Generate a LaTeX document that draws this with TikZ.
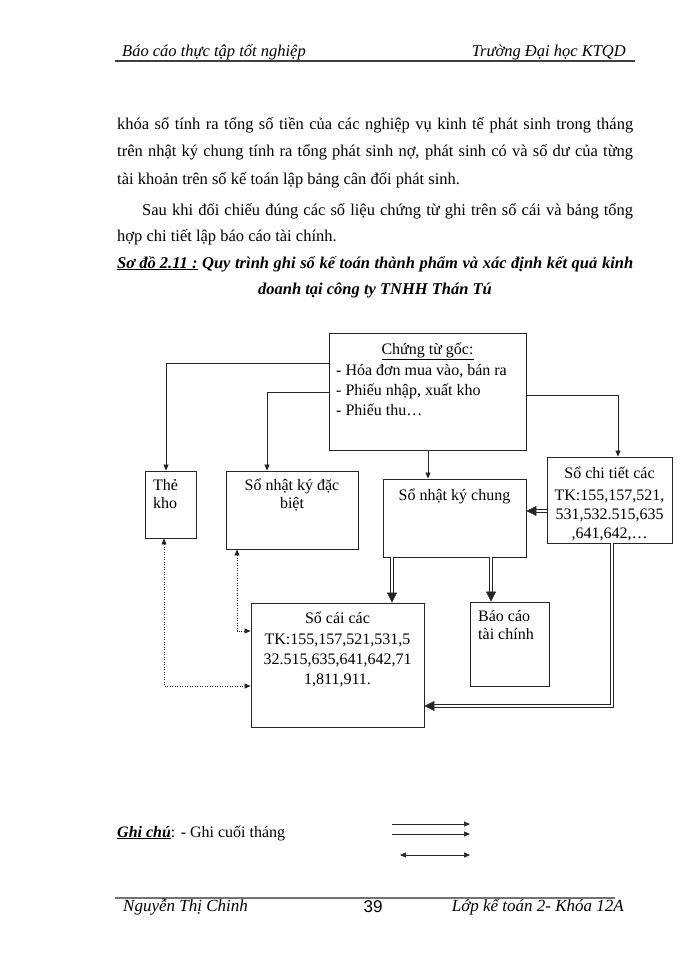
\documentclass[tikz,border=0pt]{standalone}
\usepackage{fontspec}
\setmainfont{Liberation Serif}
\newfontfamily\sansf{Liberation Sans}
\usetikzlibrary{arrows.meta,calc}
\begin{document}
\begin{tikzpicture}[x=1pt,y=-1pt,
  box/.style={draw=black!85, line width=0.9pt, inner sep=0pt},
  txt/.style={anchor=base, inner sep=0pt, font=\fontsize{16}{18}\selectfont},
  ltxt/.style={anchor=base west, inner sep=0pt, font=\fontsize{16}{18}\selectfont},
  thinarr/.style={draw=black!85, line width=0.7pt, -{Triangle[length=6pt,width=5pt]}},
  dblarr/.style={draw=black!85, line width=0.6pt, double distance=2.2pt, -{Triangle[length=10pt,width=10pt]}},
  dotarr/.style={draw=black!85, line width=0.7pt, dash pattern=on 1pt off 1.5pt, {Triangle[length=6pt,width=5pt]}-{Triangle[length=6pt,width=5pt]}},
  body/.style={anchor=base west, inner sep=0pt, font=\fontsize{16.5}{18}\selectfont},
  hf/.style={inner sep=0pt, font=\itshape\fontsize{16.5}{18}\selectfont},
]
\useasboundingbox[fill=white] (0,0) rectangle (700,960);

% header
\coordinate (hl) at (115,61);
\coordinate (hr) at (635,61);
\draw[line width=1.5pt, black!75] (hl) -- (hr);
\node[hf, anchor=base west] (h1) at (122,57) {Báo cáo thực tập tốt nghiệp};
\node[hf, anchor=base east] (h2) at (626,57) {Trường Đại học KTQD};

% body text
\node[body] (p1) at (117,130) {\makebox[516pt][s]{khóa sổ tính ra tổng số tiền của các nghiệp vụ kinh tế phát sinh trong tháng}};
\node[body] (p2) at (117,157) {\makebox[516pt][s]{trên nhật ký chung tính ra tổng phát sinh nợ, phát sinh có và số dư của từng}};
\node[body] (p3) at (117,185) {tài khoản trên sổ kế toán lập bảng cân đối phát sinh.};
\node[body] (p4) at (142,215) {\makebox[491pt][s]{Sau khi đối chiếu đúng các số liệu chứng từ ghi trên sổ cái và bảng tổng}};
\node[body] (p5) at (117,241) {hợp chi tiết lập báo cáo tài chính.};
\node[body] (c1) at (117,268) {\makebox[516pt][s]{\bfseries\itshape\underline{Sơ đồ 2.11 :} Quy trình ghi sổ kế toán thành phẩm và xác định kết quả kinh}};
\node[txt, font=\bfseries\itshape\fontsize{16.5}{18}\selectfont] (c2) at (375,294) {doanh tại công ty TNHH Thán Tú};

% boxes
\node[box, minimum width=197pt, minimum height=117pt] (ctg) at (427.5,391.5) {};
\node[box, minimum width=51pt, minimum height=67pt] (tk) at (170.5,504.5) {};
\node[box, minimum width=132pt, minimum height=78pt] (nkdb) at (292,510) {};
\node[box, minimum width=143pt, minimum height=78pt] (nkc) at (454.5,518) {};
\node[box, minimum width=125pt, minimum height=86pt] (sct) at (609.5,500) {};
\node[box, minimum width=173pt, minimum height=124pt] (sc) at (337.5,665) {};
\node[box, minimum width=79pt, minimum height=84pt] (bc) at (509.5,644) {};

% box texts
\node[txt] (ctg0) at (427.5,354) {\underline{Chứng từ gốc:}};
\node[ltxt] (ctg1) at (336,375) {- Hóa đơn mua vào, bán ra};
\node[ltxt] (ctg2) at (336,395) {- Phiếu nhập, xuất kho};
\node[ltxt] (ctg3) at (336,415) {- Phiếu thu…};
\node[ltxt] (tk1) at (153,490) {Thẻ};
\node[ltxt] (tk2) at (153,508) {kho};
\node[txt] (nkdb1) at (292,490) {Sổ nhật ký đặc};
\node[txt] (nkdb2) at (292,508) {biệt};
\node[txt] (nkc1) at (454.5,500) {Sổ nhật ký chung};
\node[txt] (sct1) at (609.5,478) {Sổ chi tiết các};
\node[txt] (sct2) at (609.5,500) {TK:155,157,521,};
\node[txt] (sct3) at (609.5,519) {531,532.515,635};
\node[txt] (sct4) at (609.5,538) {,641,642,…};
\node[txt] (sc1) at (337.5,623) {Sổ cái các};
\node[txt] (sc2) at (337.5,644) {TK:155,157,521,531,5};
\node[txt] (sc3) at (337.5,664) {32.515,635,641,642,71};
\node[txt] (sc4) at (337.5,684) {1,811,911.};
\node[ltxt] (bc1) at (478,621) {Báo cáo};
\node[ltxt] (bc2) at (478,639) {tài chính};

% connectors
\draw[thinarr] (ctg.west |- 0,363) -| ([xshift=-4.5pt]tk.north);
\draw[thinarr] (ctg.west |- 0,392) -| ([xshift=-25pt]nkdb.north);
\draw[thinarr] (ctg.south -| 428,0) -- (nkc.north -| 428,0);
\draw[thinarr] (ctg.east |- 0,395) -| ([xshift=8.5pt]sct.north);
\draw[dblarr] (sct.west |- 0,511) -- (nkc.east |- 0,511);
\draw[dblarr] (nkc.south -| 392,0) -- (sc.north -| 392,0);
\draw[dblarr] (nkc.south -| 491,0) -- (bc.north -| 491,0);
\draw[dblarr] (sct.south -| 612,0) |- (sc.east |- 0,706);
\draw[dotarr] ([xshift=-6.5pt]tk.south) |- (sc.west |- 0,686);
\draw[dotarr] ([xshift=-55pt]nkdb.south) |- (sc.west |- 0,631);

% legend
\node[body, font=\fontsize{16}{18}\selectfont] (leg) at (117,837) {\textbf{\textit{\underline{Ghi chú}}}: - Ghi cuối tháng};
\coordinate (l1a) at (392,824); \coordinate (l1b) at (470,824);
\coordinate (l2a) at (392,834); \coordinate (l2b) at (470,834);
\coordinate (l3a) at (400,855); \coordinate (l3b) at (470,855);
\draw[thinarr] (l1a) -- (l1b);
\draw[thinarr] (l2a) -- (l2b);
\draw[thinarr, {Triangle[length=6pt,width=5pt]}-{Triangle[length=6pt,width=5pt]}] (l3a) -- (l3b);

% footer
\coordinate (fl) at (115,898);
\coordinate (fr) at (615,898);
\draw[line width=2.5pt, black!55] (fl) -- (fr);
\node[hf, anchor=base west, font=\itshape\fontsize{17}{18}\selectfont] (f1) at (123,911) {Nguyễn Thị Chinh};
\node[inner sep=0pt, anchor=base, font=\sansf\fontsize{17}{18}\selectfont] (f2) at (373,912) {39};
\node[hf, anchor=base east, font=\itshape\fontsize{17}{18}\selectfont] (f3) at (624,911) {Lớp kế toán 2- Khóa 12A};
\end{tikzpicture}
\end{document}
